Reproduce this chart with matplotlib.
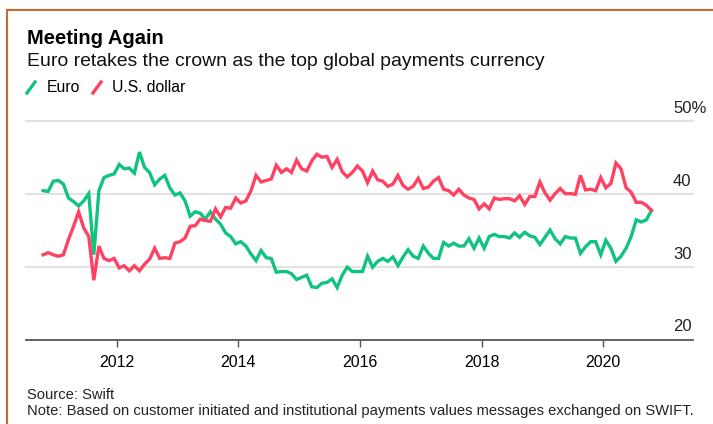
import numpy as np
import matplotlib
matplotlib.use('Agg')
import matplotlib.pyplot as plt
from matplotlib.lines import Line2D

# Monthly share of global payments (%), Oct 2010 - Oct 2020
first_month = '2010-10'
euro = [40.5, 40.4, 41.8, 41.9, 41.4, 39.5, 39.0, 38.4, 39.1, 40.1,
        31.7, 40.5, 42.3, 42.6, 42.8, 44.1, 43.5, 43.6, 42.9, 45.8,
        43.7, 43.0, 41.3, 42.1, 42.6, 40.9, 39.9, 40.2, 39.1, 37.0,
        37.6, 37.4, 36.6, 37.6, 36.6, 35.9, 34.7, 34.2, 33.2, 33.5,
        32.9, 31.8, 30.9, 32.3, 31.3, 31.2, 29.3, 29.4, 29.4, 29.1,
        28.3, 28.6, 28.9, 27.3, 27.2, 27.8, 27.9, 28.4, 27.2, 28.9,
        30.0, 29.4, 29.4, 29.4, 31.5, 30.0, 30.8, 31.2, 30.8, 31.4,
        30.2, 31.4, 32.4, 31.5, 31.2, 32.9, 31.9, 31.2, 31.2, 33.4,
        32.9, 33.3, 32.9, 32.9, 33.9, 32.6, 34.0, 32.6, 34.2, 34.5,
        34.2, 34.2, 34.0, 34.7, 34.1, 34.8, 34.3, 34.1, 33.1, 34.1,
        35.1, 33.9, 33.2, 34.2, 34.0, 34.0, 31.9, 32.8, 33.5, 33.5,
        31.7, 33.7, 32.6, 30.8, 31.5, 32.6, 34.2, 36.5, 36.2, 36.5,
        37.8]
usd = [31.7, 32.0, 31.7, 31.5, 31.7, 33.8, 35.6, 37.6, 35.4, 34.2,
       28.2, 32.9, 31.2, 30.9, 31.2, 29.9, 30.2, 29.5, 30.2, 29.5,
       30.4, 31.1, 32.6, 31.2, 31.3, 31.2, 33.3, 33.5, 34.0, 35.6,
       35.7, 36.6, 36.4, 36.3, 38.0, 36.9, 38.2, 38.1, 39.5, 38.8,
       39.1, 40.5, 42.6, 41.7, 41.9, 42.1, 44.0, 43.0, 43.5, 43.0,
       44.7, 43.5, 43.2, 44.6, 45.5, 45.1, 45.2, 43.7, 44.8, 43.1,
       42.4, 43.0, 43.9, 43.2, 41.6, 43.2, 42.0, 41.8, 41.1, 41.4,
       42.6, 41.2, 40.7, 41.1, 42.2, 40.8, 41.0, 41.8, 42.3, 40.7,
       40.5, 39.9, 40.7, 39.9, 39.5, 39.3, 38.0, 38.7, 38.0, 39.5,
       39.3, 39.4, 39.4, 39.1, 39.8, 38.6, 39.7, 39.7, 41.7, 40.2,
       39.2, 40.1, 40.8, 40.1, 40.1, 40.0, 42.6, 40.6, 40.7, 40.5,
       42.3, 40.9, 41.5, 44.3, 43.5, 40.9, 40.3, 38.9, 38.9, 38.5,
       37.8]
year_ticks = [2012, 2014, 2016, 2018, 2020]
pct_ticks = [20, 30, 40, 50]

green = '#12c27f'
red = '#ff4262'
plt.rcParams['font.family'] = ['Liberation Sans', 'DejaVu Sans']

# mid-month positions as decimal years
months = np.arange(np.datetime64(first_month), np.datetime64(first_month) + len(euro))
x = 1970 + months.astype(int) / 12 + 0.5 / 12

fig = plt.figure(figsize=(7.13, 4.24), dpi=100)
ax = fig.add_axes([26 / 713, 84 / 424, 667 / 713, 218.5 / 424])

ax.set_xlim(2010.51, 2021.475)
ax.set_ylim(20, 50)
for v in pct_ticks[1:]:
    ax.axhline(v, color='#e2e2e2', lw=1.5, zorder=1, clip_on=False)

ax.plot(x, euro, color=green, lw=2.4, zorder=3, solid_joinstyle='miter')
ax.plot(x, usd, color=red, lw=2.4, zorder=3, solid_joinstyle='miter')

for s in ['top', 'right', 'left']:
    ax.spines[s].set_visible(False)
ax.spines['bottom'].set_color('#555555')
ax.spines['bottom'].set_linewidth(1.3)
ax.set_yticks([])
ax.set_xticks(year_ticks)
ax.set_xticklabels([str(y) for y in year_ticks], fontsize=11.5)
ax.tick_params(axis='x', length=5, width=1, color='#555555', pad=6)

for v in pct_ticks:
    label = f'{v}%' if v == 50 else str(v)
    ax.annotate(label, xy=(0.970, v), xycoords=ax.get_yaxis_transform(),
                xytext=(0, 4), textcoords='offset points',
                ha='left', va='bottom', fontsize=12, color='#222222')

# title block
fig.text(27 / 713, 1 - 44 / 424, 'Meeting Again', fontsize=14.5, fontweight='bold',
         color='black', va='baseline')
fig.text(27 / 713, 1 - 66 / 424, 'Euro retakes the crown as the top global payments currency',
         fontsize=13.95, color='#111111', va='baseline')

# legend
fig.add_artist(Line2D([27 / 713, 35 / 713], [1 - 93 / 424, 1 - 82 / 424],
                      color=green, lw=2.4, transform=fig.transFigure))
fig.text(47 / 713, 1 - 92.5 / 424, 'Euro', fontsize=11.3, va='baseline')
fig.add_artist(Line2D([93 / 713, 101 / 713], [1 - 93 / 424, 1 - 82 / 424],
                      color=red, lw=2.4, transform=fig.transFigure))
fig.text(112 / 713, 1 - 92.5 / 424, 'U.S. dollar', fontsize=11.3, va='baseline')

# footer
fig.text(27 / 713, 1 - 399 / 424, 'Source: Swift', fontsize=10.6,
         color='#222222', va='baseline')
fig.text(27 / 713, 1 - 414.5 / 424,
         'Note: Based on customer initiated and institutional payments values messages exchanged on SWIFT.',
         fontsize=10.6, color='#222222', va='baseline')

# orange frame (top and left edges)
frame = '#c8692e'
fig.add_artist(Line2D([7 / 713, 7 / 713], [0, 1 - 10 / 424], color=frame, lw=1.5,
                      transform=fig.transFigure))
fig.add_artist(Line2D([7 / 713, 1], [1 - 10 / 424, 1 - 10 / 424], color=frame, lw=1.5,
                      transform=fig.transFigure))

fig.savefig('out.png', dpi=100)
